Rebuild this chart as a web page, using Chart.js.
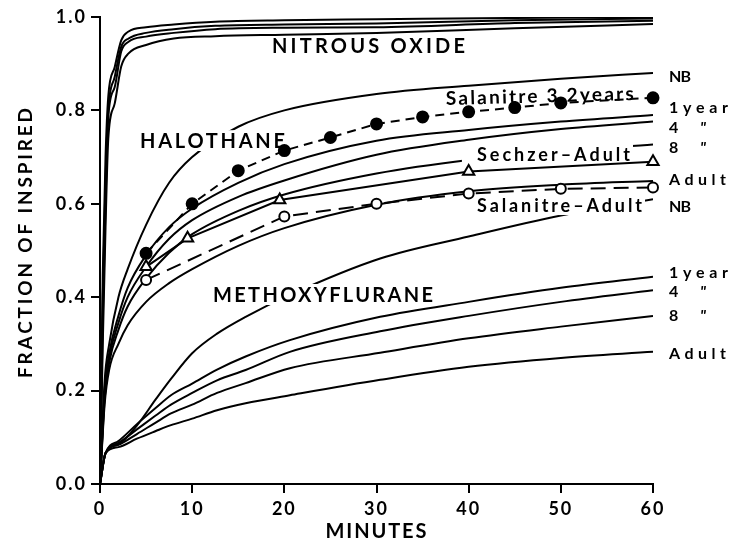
<!DOCTYPE html>
<html><head><meta charset="utf-8">
<script src="https://cdn.jsdelivr.net/npm/chart.js@4.4.1/dist/chart.umd.min.js"></script>
<style>html,body{margin:0;padding:0;background:#fff}#wrap{width:737px;height:540px}</style>
</head><body><div id="wrap"><canvas id="c" width="737" height="540"></canvas></div>
<script>
// ---------- DATA ----------
const X_TICKS = [0, 10, 20, 30, 40, 50, 60];
const Y_TICKS = [0, 0.2, 0.4, 0.6, 0.8, 1.0];

// Nitrous oxide (4 curves)
const N2O_MIN = [0, 0.3, 0.6, 0.9, 1.6, 2.3, 3.1, 5, 8, 12.5, 20, 30, 45, 60];
const N2O_A = [0, 0.45, 0.70, 0.83, 0.893, 0.950, 0.969, 0.978, 0.984, 0.990, 0.993, 0.995, 0.998, 1.000];
const N2O_B = [0, 0.40, 0.65, 0.80, 0.872, 0.936, 0.954, 0.966, 0.974, 0.981, 0.984, 0.986, 0.993, 0.997];
const N2O_C = [0, 0.35, 0.60, 0.786, 0.850, 0.926, 0.947, 0.958, 0.966, 0.974, 0.977, 0.978, 0.987, 0.992];
const N2O_D = [0, 0.30, 0.55, 0.74, 0.815, 0.894, 0.922, 0.940, 0.954, 0.959, 0.962, 0.966, 0.976, 0.985];

// Halothane (NB, 1 year, 4, 8, Adult)
const HAL_MIN = [0, 0.5, 1, 2, 3, 5, 7.5, 10, 15, 20, 30, 40, 50, 60];
const HAL_NB  = [0, 0.22, 0.30, 0.40, 0.46, 0.555, 0.645, 0.700, 0.765, 0.800, 0.835, 0.853, 0.868, 0.880];
const HAL_1Y  = [0, 0.20, 0.28, 0.36, 0.42, 0.490, 0.550, 0.590, 0.645, 0.685, 0.735, 0.758, 0.776, 0.790];
const HAL_4Y  = [0, 0.19, 0.27, 0.345, 0.40, 0.465, 0.525, 0.565, 0.615, 0.650, 0.705, 0.737, 0.760, 0.776];
const HAL_8Y  = [0, 0.18, 0.26, 0.33, 0.38, 0.440, 0.495, 0.535, 0.585, 0.620, 0.665, 0.694, 0.713, 0.727];
const HAL_AD  = [0, 0.17, 0.245, 0.30, 0.34, 0.390, 0.430, 0.460, 0.510, 0.548, 0.598, 0.627, 0.641, 0.649];

// Methoxyflurane (NB, 1 year, 4, 8, Adult)
const MET_MIN = [0, 0.6, 2, 4, 6, 7.7, 10, 12.7, 15.8, 20.6, 30.4, 40, 50, 60];
const MET_NB  = [0, 0.066, 0.085, 0.125, 0.180, 0.225, 0.280, 0.322, 0.358, 0.405, 0.483, 0.530, 0.575, 0.610];
const MET_1Y  = [0, 0.066, 0.092, 0.128, 0.162, 0.190, 0.215, 0.245, 0.273, 0.308, 0.358, 0.390, 0.420, 0.444];
const MET_4Y  = [0, 0.066, 0.088, 0.117, 0.146, 0.170, 0.195, 0.222, 0.244, 0.283, 0.327, 0.360, 0.390, 0.415];
const MET_8Y  = [0, 0.066, 0.084, 0.107, 0.131, 0.151, 0.170, 0.195, 0.216, 0.248, 0.281, 0.312, 0.337, 0.360];
const MET_AD  = [0, 0.066, 0.079, 0.097, 0.113, 0.126, 0.140, 0.158, 0.173, 0.190, 0.223, 0.251, 0.270, 0.283];

// Measured data
const SAL32_MIN = [5, 10, 15, 20, 25, 30, 35, 40, 45, 50, 60];
const SAL32_VAL = [0.494, 0.600, 0.671, 0.714, 0.742, 0.771, 0.786, 0.797, 0.806, 0.816, 0.827];
const SECH_MIN  = [5, 9.5, 19.5, 40, 60];
const SECH_VAL  = [0.465, 0.526, 0.608, 0.669, 0.690];
const SALAD_MIN = [5, 20, 30, 40, 50, 60];
const SALAD_VAL = [0.437, 0.573, 0.600, 0.622, 0.632, 0.635];

// ---------- helpers ----------
const pts = (xs, ys) => xs.map((x, i) => ({x, y: ys[i]}));
const curve = (xs, ys, extra) => Object.assign({
  data: pts(xs, ys), borderColor: '#000', borderWidth: 2, pointRadius: 0,
  fill: false, tension: 0.4, cubicInterpolationMode: 'monotone', order: 0
}, extra || {});

const FONT = 'Lato, "DejaVu Sans", sans-serif';

// annotation texts, anchored in data units (minutes, fraction)
const TEXTS = [
  {t: 'NITROUS OXIDE',    x: 18.66, y: 0.922, size: 20, w: 193},
  {t: 'HALOTHANE',        x: 4.34,  y: 0.7195, size: 20, w: 145, box: true},
  {t: 'METHOXYFLURANE',   x: 12.26, y: 0.390, size: 20, w: 220, box: true},
  {t: 'Salanitre 3.2years', x: 37.54, y: 0.8116, size: 19, w: 188, rot: -0.027},
  {t: 'Sechzer\u2013Adult', x: 40.9, y: 0.6927, size: 18, w: 153, box: true, padL: 12},
  {t: 'Salanitre\u2013Adult', x: 40.9, y: 0.5824, size: 18, w: 165, box: true}
];
const RIGHT = [
  {t: 'NB', y: 0.8615, w: 22}, {t: '1year', y: 0.7938, w: 59}, {t: '4', q: 1, y: 0.7516},
  {t: '8', q: 1, y: 0.7094}, {t: 'Adult', y: 0.6403, w: 57},
  {t: 'NB', y: 0.5831, w: 22}, {t: '1year', y: 0.4411, w: 59}, {t: '4', q: 1, y: 0.4004},
  {t: '8', q: 1, y: 0.349}, {t: 'Adult', y: 0.2677, w: 57}
];

function drawFit(ctx, text, x, y, size, width, weight) {
  ctx.font = (weight || 'bold') + ' ' + size + 'px ' + FONT;
  ctx.letterSpacing = '0px';
  const w = ctx.measureText(text).width;
  const n = [...text].length;
  const sp = width ? (width - w) / Math.max(1, n - 1) : 0;
  ctx.letterSpacing = sp + 'px';
  ctx.fillText(text, x, y);
  ctx.letterSpacing = '0px';
}

const annot = {
  id: 'annot',
  beforeDraw(chart) { chart.ctx.letterSpacing = '2px'; },
  afterDatasetDraw(chart, args) {
    if (!chart.data.datasets[args.index].gap) return;
    const {ctx, scales: {x, y}} = chart;
    ctx.save();
    ctx.fillStyle = '#fff';
    TEXTS.forEach(o => {
      if (!o.box) return;
      const px = x.getPixelForValue(o.x), py = y.getPixelForValue(o.y);
      const cap = o.size * 0.74;
      ctx.fillRect(px - 3 - (o.padL || 0), py - cap - 3, o.w + 6 + (o.padL || 0), cap + 6);
    });
    ctx.restore();
  },
  afterDraw(chart) {
    const {ctx, scales: {x, y}} = chart;
    ctx.save();
    ctx.fillStyle = '#000';
    ctx.textAlign = 'left';
    ctx.textBaseline = 'alphabetic';
    TEXTS.forEach(o => {
      const px = x.getPixelForValue(o.x), py = y.getPixelForValue(o.y);
      ctx.save();
      ctx.translate(px, py);
      if (o.rot) ctx.rotate(o.rot);
      drawFit(ctx, o.t, 0, 0, o.size, o.w);
      ctx.restore();
    });
    const rx = x.getPixelForValue(60) + 16;
    RIGHT.forEach(o => {
      const py = y.getPixelForValue(o.y);
      drawFit(ctx, o.t, rx, py, 16, o.w);
      if (o.q) { ctx.font = 'italic bold 16px ' + FONT; ctx.fillText('"', rx + 31, py); }
    });
    // axis titles
    const xc = (x.left + x.right) / 2;
    drawFit(ctx, 'MINUTES', xc - 51, 538, 20, 101);
    ctx.translate(32, 378);
    ctx.rotate(-Math.PI / 2);
    drawFit(ctx, 'FRACTION OF INSPIRED', 0, 0, 19, 270);
    ctx.restore();
  }
};

const marker = {borderColor: '#000', borderWidth: 2, tension: 0, order: 0, clip: 12};
const datasets = [
  // measured series (drawn on top)
  Object.assign({data: pts(SAL32_MIN, SAL32_VAL), borderDash: [9, 6],
   pointRadius: 5.5, pointBackgroundColor: '#000', pointBorderColor: '#000'}, marker),
  Object.assign({data: pts(SECH_MIN, SECH_VAL),
   pointStyle: 'triangle', pointRadius: 6.5, pointBackgroundColor: '#fff', pointBorderColor: '#000', pointBorderWidth: 2}, marker),
  Object.assign({data: pts(SALAD_MIN, SALAD_VAL), borderDash: [15, 8],
   pointRadius: 5, pointBackgroundColor: '#fff', pointBorderColor: '#000', pointBorderWidth: 2}, marker),
  // model curves
  curve(N2O_MIN, N2O_A), curve(N2O_MIN, N2O_B), curve(N2O_MIN, N2O_C), curve(N2O_MIN, N2O_D),
  curve(HAL_MIN, HAL_1Y), curve(HAL_MIN, HAL_4Y), curve(HAL_MIN, HAL_AD),
  curve(MET_MIN, MET_1Y), curve(MET_MIN, MET_4Y), curve(MET_MIN, MET_8Y), curve(MET_MIN, MET_AD),
  // curves interrupted by labels (drawn first)
  curve(HAL_MIN, HAL_NB, {order: 1, gap: true}),
  curve(HAL_MIN, HAL_8Y, {order: 1, gap: true}),
  curve(MET_MIN, MET_NB, {order: 1, gap: true})
];

const tickFont = {family: FONT, size: 18, weight: 'bold'};
new Chart(document.getElementById('c'), {
  type: 'line',
  data: {datasets},
  options: {
    responsive: false, animation: false, devicePixelRatio: 1,
    layout: {padding: {top: 17, right: 84, left: 0, bottom: 0}},
    plugins: {legend: {display: false}, tooltip: {enabled: false}},
    scales: {
      x: {
        type: 'linear', min: 0, max: 60,
        afterBuildTicks: s => { s.ticks = X_TICKS.map(v => ({value: v})); },
        afterFit: s => { s.height = 56; },
        ticks: {color: '#000', font: tickFont, padding: 5, maxRotation: 0, callback: v => String(v)},
        grid: {drawOnChartArea: false, drawTicks: true, tickLength: 9, color: '#000', lineWidth: 2},
        border: {display: true, color: '#000', width: 2}
      },
      y: {
        type: 'linear', min: 0, max: 1,
        afterBuildTicks: s => { s.ticks = Y_TICKS.map(v => ({value: v})); },
        afterFit: s => { s.width = 100; },
        ticks: {color: '#000', font: tickFont, padding: 4, callback: v => Number(v).toFixed(1)},
        grid: {drawOnChartArea: false, drawTicks: true, tickLength: 9, color: '#000', lineWidth: 2},
        border: {display: true, color: '#000', width: 2}
      }
    }
  },
  plugins: [annot]
});
</script>
</body></html>
